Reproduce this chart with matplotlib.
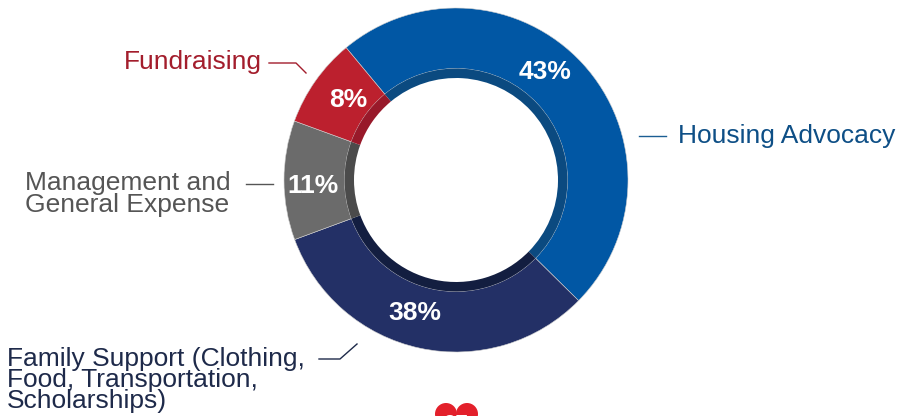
import matplotlib.pyplot as plt
from matplotlib.patches import Circle, Polygon
from matplotlib import font_manager

# ---------------- data ----------------
categories = ["Housing Advocacy", "Family Support", "Management and General Expense", "Fundraising"]
pct_labels = [43, 38, 11, 8]
# arc share of each wedge, as drawn in the picture (%)
wedge_share = [48.4, 32.0, 11.2, 8.4]
outer_colors = ["#0157A4", "#233066", "#6B6B6B", "#BC202E"]
inner_colors = ["#0B4A80", "#131E40", "#4B4B4B", "#98192A"]

names = {f.name for f in font_manager.fontManager.ttflist}
pct_font = ["Liberation Sans Narrow"] if "Liberation Sans Narrow" in names else ["Liberation Sans"]
pct_size = 22 if pct_font[0] == "Liberation Sans Narrow" else 19
plt.rcParams["font.family"] = ["Liberation Sans", "DejaVu Sans"]

W, H = 907, 416
fig = plt.figure(figsize=(W / 100, H / 100), dpi=100)
ax = fig.add_axes([0, 0, 1, 1])

cx, cy = 456, H - 180
R_out, R_mid, R_in = 172, 111.5, 102

# outer coloured ring
ax.pie(wedge_share, colors=outer_colors, radius=R_out, center=(cx, cy),
       startangle=129.7, counterclock=False,
       wedgeprops=dict(width=R_out - R_mid, linewidth=0.4, edgecolor="#cfcfcf"))
# dark inner ring
ax.pie(wedge_share, colors=inner_colors, radius=R_mid, center=(cx, cy),
       startangle=129.7, counterclock=False,
       wedgeprops=dict(width=R_mid - R_in, linewidth=0))

ax.set_xlim(0, W)
ax.set_ylim(0, H)
ax.set_aspect("equal")
ax.axis("off")

# percentage labels (pixel positions from the picture)
pct_pos = [(545, 72), (415, 313), (313, 186), (348, 100)]
for p, (x, y) in zip(pct_labels, pct_pos):
    ax.text(x, H - y, f"{p}%", color="white", fontsize=pct_size, fontweight="bold",
            family=pct_font, ha="center", va="center")

# category labels + leader lines
lab_size = 19
ax.plot([639, 666], [H - 136, H - 136], color="#1B5E93", lw=1)
ax.text(678, H - 136, categories[0], color="#0E4F86", fontsize=lab_size, ha="left", va="center")

ax.plot([269, 296, 306], [H - 63, H - 63, H - 73], color="#A31D2C", lw=1)
ax.text(262, H - 62, categories[3], color="#A31D2C", fontsize=lab_size, ha="right", va="center")

ax.plot([246, 273], [H - 184, H - 184], color="#555555", lw=1)
ax.text(25, H - 194, "Management and\nGeneral Expense", color="#555555", fontsize=lab_size,
        ha="left", va="center", linespacing=0.9)

ax.plot([319, 340, 357], [H - 359, H - 359, H - 344], color="#1E2A4A", lw=1)
ax.text(7, H - 380, "Family Support (Clothing,\nFood, Transportation,\nScholarships)",
        color="#1E2A4A", fontsize=lab_size, ha="left", va="center", linespacing=0.86)

# page marker heart at the bottom
heart = "#E3202B"
ax.add_patch(Circle((446, H - 414), 11, color=heart, lw=0))
ax.add_patch(Circle((467, H - 414), 11, color=heart, lw=0))
ax.add_patch(Polygon([(436, H - 416), (477, H - 416), (456, H - 440)], color=heart, lw=0))
ax.text(456, H - 424, "97", color="white", fontsize=16, fontweight="bold",
        ha="center", va="center")

fig.savefig("out.png", dpi=100)
